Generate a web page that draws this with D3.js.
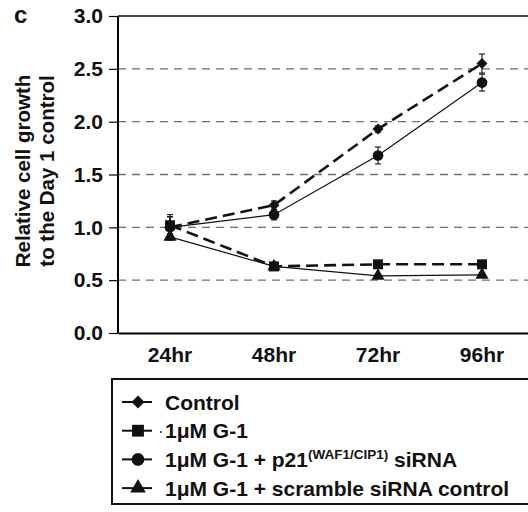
<!DOCTYPE html>
<html>
<head>
<meta charset="utf-8">
<script src="https://cdn.jsdelivr.net/npm/d3@7"></script>
<style>
  body { margin: 0; background: #fff; }
  text { font-family: "Liberation Sans", Arial, sans-serif; font-weight: bold; }
</style>
</head>
<body>
<svg id="chart" width="528" height="512"></svg>
<script>
  const times = ["24hr", "48hr", "72hr", "96hr"],
        yTicks = [0, 0.5, 1.0, 1.5, 2.0, 2.5, 3.0];

  // series values and error bars
  const controlVals = [1.00, 1.21, 1.93, 2.55],
        controlErr  = [0.12, 0.04, 0.03, 0.09],
        g1Vals      = [1.02, 0.63, 0.65, 0.65],
        g1Err       = [0.08, 0.02, 0.02, 0.02],
        p21Vals     = [1.00, 1.12, 1.68, 2.37],
        p21Err      = [0.10, 0.05, 0.08, 0.08],
        scrVals     = [0.91, 0.63, 0.54, 0.55],
        scrErr      = [0.03, 0.02, 0.02, 0.02];

  const series = [
    {name: "Control", vals: controlVals, err: controlErr, symbol: d3.symbolSquare, rot: 45, size: 60, dashed: true},
    {name: "1μM G-1", vals: g1Vals, err: g1Err, symbol: d3.symbolSquare, rot: 0, size: 100, dashed: true},
    {name: "1μM G-1 + p21", sup: "(WAF1/CIP1)", tail: " siRNA", vals: p21Vals, err: p21Err, symbol: d3.symbolCircle, rot: 0, size: 90, dashed: false},
    {name: "1μM G-1 + scramble siRNA control", vals: scrVals, err: scrErr, symbol: d3.symbolTriangle, rot: 0, size: 75, dashed: false}
  ];

  const margin = {top: 16, left: 118},
        width = 416,
        height = 317;

  let svg = d3.select("#chart");

  let x = d3.scaleBand()
            .domain(times)
            .range([0, width]);

  let y = d3.scaleLinear()
            .domain([0, 3])
            .range([height, 0]);

  let chart = svg.append("g")
                 .attr("transform", "translate(" + margin.left + "," + margin.top + ")");

  // Grid lines
  chart.selectAll(".grid")
       .data(yTicks.filter((d) => d > 0 && d < 3))
       .enter()
       .append("line")
       .attr("x1", 0)
       .attr("x2", width)
       .attr("y1", (d) => y(d))
       .attr("y2", (d) => y(d))
       .attr("stroke", "#6e6e6e")
       .attr("stroke-width", 1.3)
       .attr("stroke-dasharray", "8,6");

  // Top border
  chart.append("line")
       .attr("x1", 0).attr("x2", width)
       .attr("y1", y(3)).attr("y2", y(3))
       .attr("stroke", "#111")
       .attr("stroke-width", 1.5);

  // y-Axis
  let yAxis = chart.append("g")
                   .call(d3.axisLeft(y).tickValues(yTicks).tickFormat(d3.format(".1f")).tickSize(9).tickPadding(6));
  yAxis.select(".domain").attr("stroke-width", 2).attr("d", "M0," + y(3) + "V" + height);
  yAxis.selectAll(".tick line").attr("stroke-width", 1.2);
  yAxis.selectAll("text").attr("font-size", 21).attr("fill", "#111");

  // x-Axis
  let xAxis = chart.append("g")
                   .attr("transform", "translate(0," + height + ")")
                   .call(d3.axisBottom(x).tickSize(0).tickPadding(14));
  xAxis.select(".domain").attr("stroke-width", 2);
  xAxis.selectAll("text").attr("font-size", 21).attr("fill", "#111");

  // y-Axis label
  let yLabel = svg.append("text")
                  .attr("transform", "translate(0,171) rotate(-90)")
                  .attr("text-anchor", "middle")
                  .attr("font-size", 20.5)
                  .attr("fill", "#111");
  yLabel.append("tspan").attr("x", 0).attr("y", 30).text("Relative cell growth");
  yLabel.append("tspan").attr("x", 0).attr("y", 54).text("to the Day 1 control");

  // Panel letter
  svg.append("text")
     .attr("x", 14).attr("y", 23)
     .attr("font-size", 24)
     .attr("fill", "#111")
     .text("c");

  let line = d3.line()
               .x((d, i) => x(times[i]) + x.bandwidth() / 2)
               .y((d) => y(d));

  series.forEach((s, k) => {
    // error bars
    let eb = chart.append("g").attr("stroke", "#111").attr("stroke-width", 1.1);
    s.vals.forEach((v, i) => {
      let cx = x(times[i]) + x.bandwidth() / 2;
      eb.append("line").attr("x1", cx).attr("x2", cx).attr("y1", y(v - s.err[i])).attr("y2", y(v + s.err[i]));
      [v - s.err[i], v + s.err[i]].forEach((e) => {
        eb.append("line").attr("x1", cx - 3).attr("x2", cx + 3).attr("y1", y(e)).attr("y2", y(e));
      });
    });

    chart.append("path")
         .datum(s.vals)
         .attr("d", line)
         .attr("fill", "none")
         .attr("stroke", "#111")
         .attr("stroke-width", s.dashed ? 2.6 : 1.2)
         .attr("stroke-dasharray", s.dashed ? "12,6" : null);

    chart.selectAll(".pt" + k)
         .data(s.vals)
         .enter()
         .append("path")
         .attr("d", d3.symbol().type(s.symbol).size(s.size))
         .attr("transform", (d, i) => "translate(" + (x(times[i]) + x.bandwidth() / 2) + "," + y(d) + ") rotate(" + s.rot + ")")
         .attr("fill", "#111");
  });

  // Legend
  let legend = svg.append("g");
  legend.append("rect")
        .attr("x", 112).attr("y", 379)
        .attr("width", 430).attr("height", 125)
        .attr("fill", "none")
        .attr("stroke", "#111")
        .attr("stroke-width", 2);

  series.forEach((s, k) => {
    let ly = 402 + k * 28.7;
    legend.append("line")
          .attr("x1", 122).attr("x2", 152)
          .attr("y1", ly).attr("y2", ly)
          .attr("stroke", "#111").attr("stroke-width", 2);
    legend.append("path")
          .attr("d", d3.symbol().type(s.symbol).size(s.size * 1.4))
          .attr("transform", "translate(138," + ly + ") rotate(" + s.rot + ")")
          .attr("fill", "#111");
    let t = legend.append("text")
                  .attr("x", 165).attr("y", ly + 7.5)
                  .attr("font-size", 21)
                  .attr("fill", "#111");
    t.append("tspan").text(s.name);
    if (s.sup) {
      t.append("tspan").attr("font-size", 13.5).attr("dy", -8).text(s.sup);
      t.append("tspan").attr("dy", 8).text(s.tail);
    }
  });
  // stray dot in front of the second legend entry
  legend.append("circle").attr("cx", 161).attr("cy", 432).attr("r", 0.9).attr("fill", "#111");
</script>
</body>
</html>
